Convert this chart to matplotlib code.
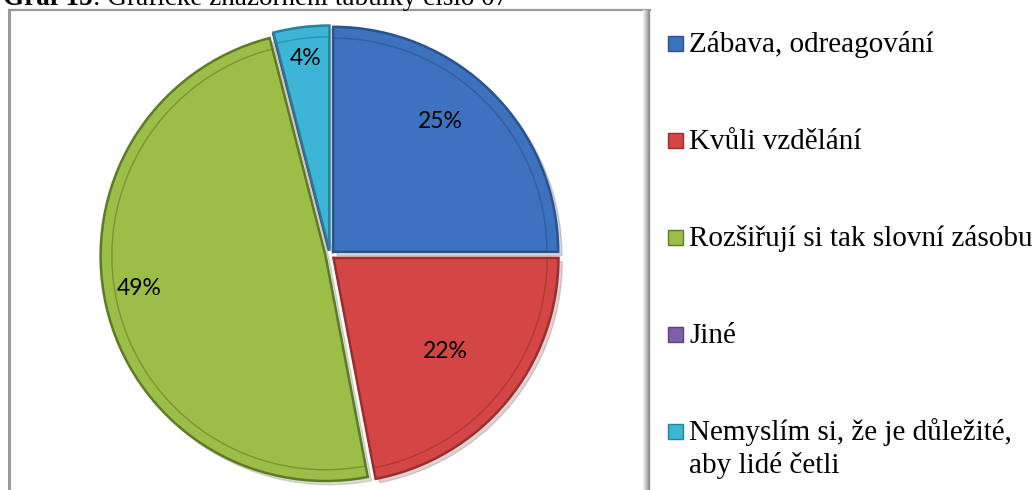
import matplotlib
matplotlib.use("Agg")
import matplotlib.pyplot as plt
from matplotlib.lines import Line2D
from matplotlib.patches import Rectangle
import numpy as np

categories = ["Zábava, odreagování", "Kvůli vzdělání", "Rozšiřují si tak slovní zásobu",
              "Jiné", "Nemyslím si, že je důležité,\naby lidé četli"]
values = [25, 22, 49, 0, 4]
colors = ["#3C72BE", "#D34645", "#9BBE48", "#7F5FA8", "#3DB5D6"]
edge_colors = ["#2A5290", "#9A2E2C", "#5F7A26", "#5A417A", "#2A8099"]
title_bold = "Graf 15"
title_rest = ": Grafické znázornění tabulky číslo 07"

W, H = 1033, 490
fig = plt.figure(figsize=(W / 100, H / 100), dpi=100)

def fx(px):
    return px / W

def fy(py):
    return 1 - py / H

# frame
fig.add_artist(Line2D([fx(9), fx(9)], [fy(10), fy(495)], color="#9a9a9a", lw=2.2, transform=fig.transFigure))
fig.add_artist(Line2D([fx(9), fx(650)], [fy(10), fy(10)], color="#9a9a9a", lw=1.6, transform=fig.transFigure))
for i, c in enumerate(["#f0f0f0", "#e2e2e2", "#d2d2d2", "#c2c2c2", "#b0b0b0", "#9c9c9c", "#8e8e8e"]):
    x = 643 + i
    fig.add_artist(Line2D([fx(x), fx(x)], [fy(10), fy(495)], color=c, lw=1.0, transform=fig.transFigure))

# title (partly cut off at top, as in the reference)
t = fig.text(fx(3), fy(5), title_bold, fontsize=19.5, fontweight="bold",
             family="Liberation Serif", va="baseline", ha="left")
fig.canvas.draw()
bb = t.get_window_extent()
fig.text(bb.x1 / W, fy(5), title_rest, fontsize=19.5, family="Liberation Serif",
         va="baseline", ha="left")

# pie
cx, cy, R = 330, 255, 225
half = 240
ax = fig.add_axes([fx(cx - half), fy(cy + half), 2 * half / W, 2 * half / H])
explode = [0.02] * len(values)

def fmt(p):
    return f"{p:.0f}%" if p > 0.5 else ""

wedges, texts, autotexts = ax.pie(
    values, colors=colors, startangle=90, counterclock=False, explode=explode,
    autopct=fmt, pctdistance=0.75, radius=1.0,
    wedgeprops=dict(edgecolor="white", linewidth=1.0),
    textprops=dict(fontsize=16.5, family="Lato", color="black"),
    shadow=dict(ox=0.012, oy=-0.012, shade=0.5, alpha=0.2),
)
for w, ec in zip(wedges, edge_colors):
    w.set_edgecolor(ec)
    w.set_linewidth(1.8)

# inner bevel outline
wedges2, _ = ax.pie(values, colors=["none"] * len(values), startangle=90,
                    counterclock=False, explode=explode, radius=0.95,
                    wedgeprops=dict(fill=False, linewidth=1.0))
for w, ec in zip(wedges2, edge_colors):
    w.set_edgecolor(ec)
    w.set_alpha(0.6)

# label positions (fraction of radius, angle in degrees)
label_pos = [(0.77, 50.4), (0.67, -40.0), (0.86, 189.9), None, (0.88, 97.0)]
for at, lp in zip(autotexts, label_pos):
    if lp is None:
        continue
    r, a = lp
    at.set_position((r * np.cos(np.radians(a)), r * np.sin(np.radians(a))))

lim = half / R
ax.set_xlim(-lim, lim)
ax.set_ylim(-lim, lim)
ax.set_aspect("equal")
ax.axis("off")

# legend
y0, step = 43.5, 97
for i, (lab, col, ec) in enumerate(zip(categories, colors, edge_colors)):
    yc = y0 + i * step
    fig.add_artist(Rectangle((fx(668), fy(yc + 7.5)), 15 / W, 15 / H, facecolor=col,
                             edgecolor=ec, lw=1.0, transform=fig.transFigure))
    for j, line in enumerate(lab.split("\n")):
        fig.text(fx(689), fy(yc + 8.5 + j * 33), line, fontsize=21,
                 family="Liberation Serif", va="baseline", ha="left")

fig.savefig("out.png", dpi=100)
